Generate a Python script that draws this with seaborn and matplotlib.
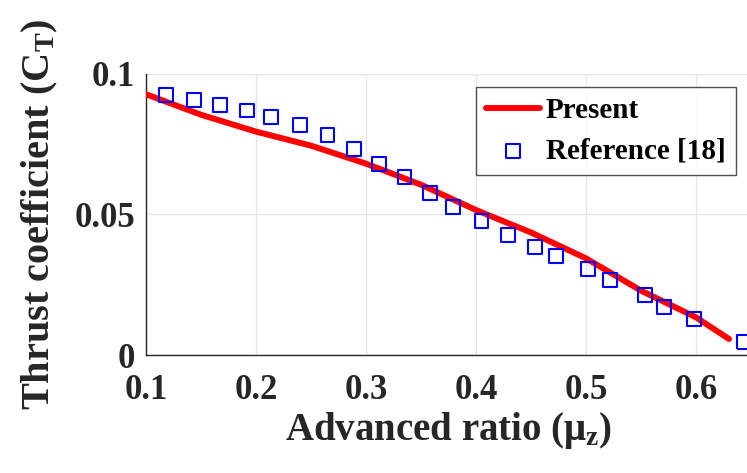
import numpy as np
import pandas as pd
import seaborn as sns
import matplotlib.pyplot as plt

# Present (solid red line)
present_mu = [0.10, 0.15, 0.20, 0.25, 0.30, 0.35, 0.40, 0.45, 0.50, 0.55, 0.60, 0.63]
present_ct = [0.0928, 0.0855, 0.0795, 0.0745, 0.0681, 0.0606, 0.0516, 0.0436, 0.0344, 0.0229, 0.0134, 0.0057]

# Reference [18] (open blue squares)
ref_mu = [0.118, 0.144, 0.167, 0.192, 0.214, 0.240, 0.265, 0.289, 0.312, 0.335, 0.358,
          0.379, 0.405, 0.429, 0.454, 0.473, 0.502, 0.522, 0.554, 0.571, 0.598, 0.644]
ref_ct = [0.0924, 0.0907, 0.0891, 0.0870, 0.0848, 0.0819, 0.0783, 0.0734, 0.0680, 0.0635, 0.0578,
          0.0528, 0.0478, 0.0426, 0.0385, 0.0352, 0.0307, 0.0268, 0.0212, 0.0172, 0.0127, 0.0045]

sns.set_style("white")
plt.rcParams['font.family'] = ['Liberation Serif', 'DejaVu Serif']
plt.rcParams['font.weight'] = 'bold'
plt.rcParams['mathtext.fontset'] = 'custom'
plt.rcParams['mathtext.rm'] = 'Liberation Serif:bold'
plt.rcParams['mathtext.bf'] = 'Liberation Serif:bold'
plt.rcParams['mathtext.it'] = 'Liberation Serif:bold'

df_present = pd.DataFrame({'mu': present_mu, 'ct': present_ct})
df_ref = pd.DataFrame({'mu': ref_mu, 'ct': ref_ct})

fig = plt.figure(figsize=(7.47, 4.73), dpi=100)
ax = fig.add_axes([146 / 747, 118 / 473, 605 / 747, 281 / 473])

sns.lineplot(data=df_present, x='mu', y='ct', ax=ax, color='#ff0000', linewidth=4.3,
             label='Present', zorder=3)
sns.scatterplot(data=df_ref, x='mu', y='ct', ax=ax, marker='s', s=100,
                facecolors='none', edgecolor='#0000ff', linewidth=1.5,
                label='Reference [18]', zorder=4, clip_on=False)

ax.set_xlim(0.1, 0.65)
ax.set_ylim(0, 0.1)
ax.set_xticks([0.1, 0.2, 0.3, 0.4, 0.5, 0.6])
ax.set_xticklabels(['0.1', '0.2', '0.3', '0.4', '0.5', '0.6'])
ax.set_yticks([0, 0.05, 0.1])
ax.set_yticklabels(['0', '0.05', '0.1'])

ax.grid(True, color='#e6e6e6', linewidth=1)
ax.set_axisbelow(True)
for side in ['top', 'right']:
    ax.spines[side].set_visible(False)
for side in ['left', 'bottom']:
    ax.spines[side].set_color('#262626')
    ax.spines[side].set_linewidth(1)

ax.tick_params(axis='both', direction='in', length=5, width=1, color='#262626',
               labelsize=25, labelcolor='#262626')
ax.tick_params(axis='x', pad=14)
ax.tick_params(axis='y', pad=8)

ax.set_xlabel('Advanced ratio (μ$_\\mathbf{z}$)', fontsize=28, fontweight='bold',
              color='#262626', labelpad=2)
ax.set_ylabel('Thrust coefficient (C$_\\mathbf{T}$)', fontsize=29, fontweight='bold',
              color='#262626', labelpad=10)

leg = ax.legend(loc='upper right', bbox_to_anchor=(736 / 747, 386 / 473),
                bbox_transform=fig.transFigure, fontsize=21, frameon=True,
                fancybox=False, handlelength=1.85, handletextpad=0.2,
                borderpad=0.35, labelspacing=0.45, borderaxespad=0)
leg.get_frame().set_edgecolor('#262626')
leg.get_frame().set_linewidth(1)
for t in leg.get_texts():
    t.set_fontweight('bold')
    t.set_color('black')

fig.savefig('out.png', dpi=100)
